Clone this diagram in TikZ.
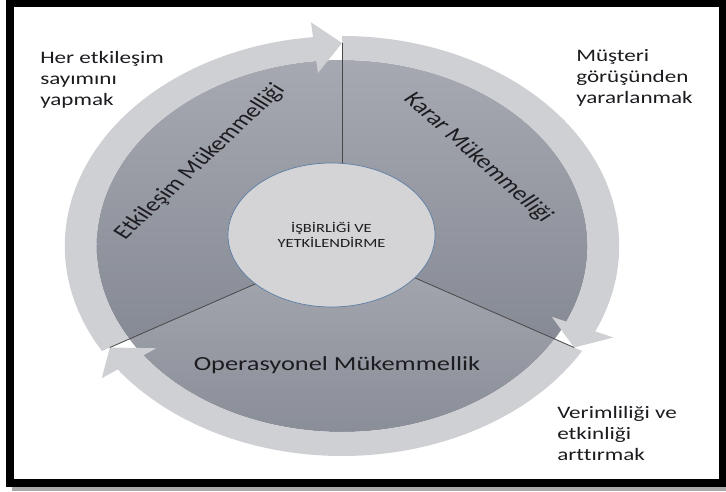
\documentclass[tikz,border=0pt]{standalone}
\usepackage{fontspec}
\setmainfont{Carlito}[Ligatures=NoCommon]
\usetikzlibrary{shapes.geometric}
\definecolor{band}{RGB}{207,208,212}
\definecolor{sectop}{RGB}{166,169,177}
\definecolor{secbot}{RGB}{134,138,148}
\definecolor{hubfill}{RGB}{212,211,213}
\definecolor{hubedge}{RGB}{92,126,166}
\definecolor{ink}{RGB}{28,28,32}
\definecolor{shadowgray}{RGB}{170,170,170}
\begin{document}
\begin{tikzpicture}[x=1pt,y=1pt,
  sector/.style={top color=sectop, bottom color=secbot, draw=none},
  ringarrow/.style={fill=band, draw=none},
  divider/.style={draw=black!72, line width=0.8pt},
  seclabel/.style={font=\fontsize{20}{24}\selectfont, text=ink, inner sep=0pt, transform shape},
  note/.style={anchor=base west, align=left, xscale=1.32, inner sep=0pt,
    font=\fontsize{17.5}{21}\selectfont, text=ink},
  hubstyle/.style={ellipse, xscale=1.32, minimum width=156.8pt, minimum height=144pt,
    inner sep=0pt, fill=hubfill, draw=hubedge, line width=0.7pt, align=center,
    font=\fontsize{12.5}{14.5}\selectfont, text=ink}]
\useasboundingbox (0,0) rectangle (726,491);
\fill[white] (0,0) rectangle (726,491);

% frame with a soft shadow along the bottom
\fill[shadowgray] (12,0) rectangle (726,5);
\draw[line width=8pt] (10,487.5) rectangle (723,8);

% the cycle, drawn on a round grid and stretched sideways
\begin{scope}[shift={(342,245)}, xscale=1.32]
  \coordinate (o) at (0,0);
  \coordinate (tipA) at (90:203);
  \coordinate (tipB) at (-30:203);
  \coordinate (tipC) at (210:203);

  % three sectors
  \path[sector] (o) -- (90:186) arc[start angle=90, end angle=210, radius=186] -- cycle;
  \path[sector] (o) -- (-30:186) arc[start angle=-30, end angle=90, radius=186] -- cycle;
  \path[sector] (o) -- (210:186) arc[start angle=210, end angle=330, radius=186] -- cycle;

  % curved arrows of the outer ring (clockwise)
  \fill[ringarrow] (210:210) arc[start angle=210, end angle=96, radius=210]
     -- (96:225) -- (tipA) -- (96:174) -- (96:186)
     arc[start angle=96, end angle=210, radius=186] -- cycle;
  \fill[ringarrow] (90:210) arc[start angle=90, end angle=-24, radius=210]
     -- (-24:225) -- (tipB) -- (-24:174) -- (-24:186)
     arc[start angle=-24, end angle=90, radius=186] -- cycle;
  \fill[ringarrow] (330:210) arc[start angle=330, end angle=216, radius=210]
     -- (216:225) -- (tipC) -- (216:174) -- (216:186)
     arc[start angle=216, end angle=330, radius=186] -- cycle;

  % sector dividers
  \draw[divider] (o) -- (tipA);
  \draw[divider] (o) -- (tipB);
  \draw[divider] (o) -- (tipC);

  % sector labels
  \node[seclabel, rotate=51] (etk) at (142:136.5) {Etkileşim Mükemmelliği};
  \node[seclabel, rotate=-49.5] (kar) at (40.5:135.5) {Karar Mükemmelliği};
  \node[seclabel, anchor=base] (ope) at (-3.8,-124) {Operasyonel Mükemmellik};
\end{scope}

% hub
\node[hubstyle] (hub) at (331.5,256) {İŞBİRLİĞİ VE\\YETKİLENDİRME};

% side notes (anchored at the baseline of their last line)
\node[note] (n1) at (40,385.5) {Her etkileşim\\sayımını\\yapmak};
\node[note] (n2) at (576,387) {Müşteri\\görüşünden\\yararlanmak};
\node[note] (n3) at (557,30.5) {Verimliliği ve\\etkinliği\\arttırmak};
\end{tikzpicture}
\end{document}
